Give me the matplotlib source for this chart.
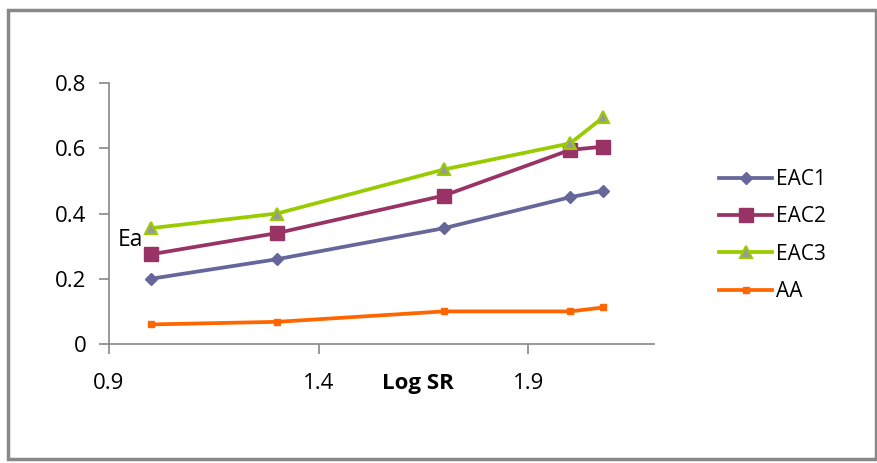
import matplotlib
matplotlib.use('Agg')
import matplotlib.pyplot as plt
from matplotlib.patches import Rectangle

matplotlib.rcParams.update({'font.family': ['Open Sans', 'DejaVu Sans'], 'font.size': 15})

log_sr = [1.0, 1.301, 1.699, 2.0, 2.079]
eac1 = [0.20, 0.26, 0.355, 0.45, 0.47]
eac2 = [0.275, 0.34, 0.455, 0.595, 0.605]
eac3 = [0.355, 0.40, 0.535, 0.615, 0.695]
aa = [0.06, 0.068, 0.10, 0.10, 0.112]

xticks = [0.9, 1.4, 1.9]
yticks = [0, 0.2, 0.4, 0.6, 0.8]

fig = plt.figure(figsize=(8.78, 4.63), dpi=100)
ax = fig.add_axes([0.1241, 0.257, 0.6208, 0.5637])

ax.plot(log_sr, eac1, color='#66669a', lw=2.7, marker='D', ms=6, label='EAC1')
ax.plot(log_sr, eac2, color='#993366', lw=2.7, marker='s', ms=10, label='EAC2')
ax.plot(log_sr, eac3, color='#99cc00', lw=2.7, marker='^', ms=9,
        mfc='#999999', mec='#99cc00', mew=1.5, label='EAC3')
ax.plot(log_sr, aa, color='#ff6600', lw=2.7, marker='s', ms=5, label='AA')

ax.set_xlim(0.9, 2.2)
ax.set_ylim(0, 0.8)
ax.set_xticks(xticks)
ax.set_xticklabels(['0.9', '1.4', '1.9'])
ax.set_yticks(yticks)
ax.set_yticklabels(['0', '0.2', '0.4', '0.6', '0.8'])

for s in ['top', 'right']:
    ax.spines[s].set_visible(False)
for s in ['left', 'bottom']:
    ax.spines[s].set_color('#888888')
    ax.spines[s].set_linewidth(1.2)
ax.tick_params(axis='both', color='#888888', length=7, width=1.2, labelsize=16)
ax.tick_params(axis='x', pad=14)
ax.tick_params(axis='y', pad=9)

fig.text(0.476, 0.172, 'Log SR', fontsize=16, fontweight='bold', ha='center', va='center')
fig.text(0.148, 0.482, 'Ea', fontsize=16.5, ha='center', va='center')

leg = ax.legend(loc='center left', bbox_to_anchor=(1.085, 0.416), frameon=False,
                fontsize=15, handlelength=2.55, handletextpad=0.2, labelspacing=0.78)

# outer chart border
fig.patches.append(Rectangle((8 / 878, 4 / 463), 868 / 878, 449 / 463, transform=fig.transFigure,
                             fill=False, edgecolor='#888888', lw=2.5))

plt.savefig('out.png', dpi=100)
